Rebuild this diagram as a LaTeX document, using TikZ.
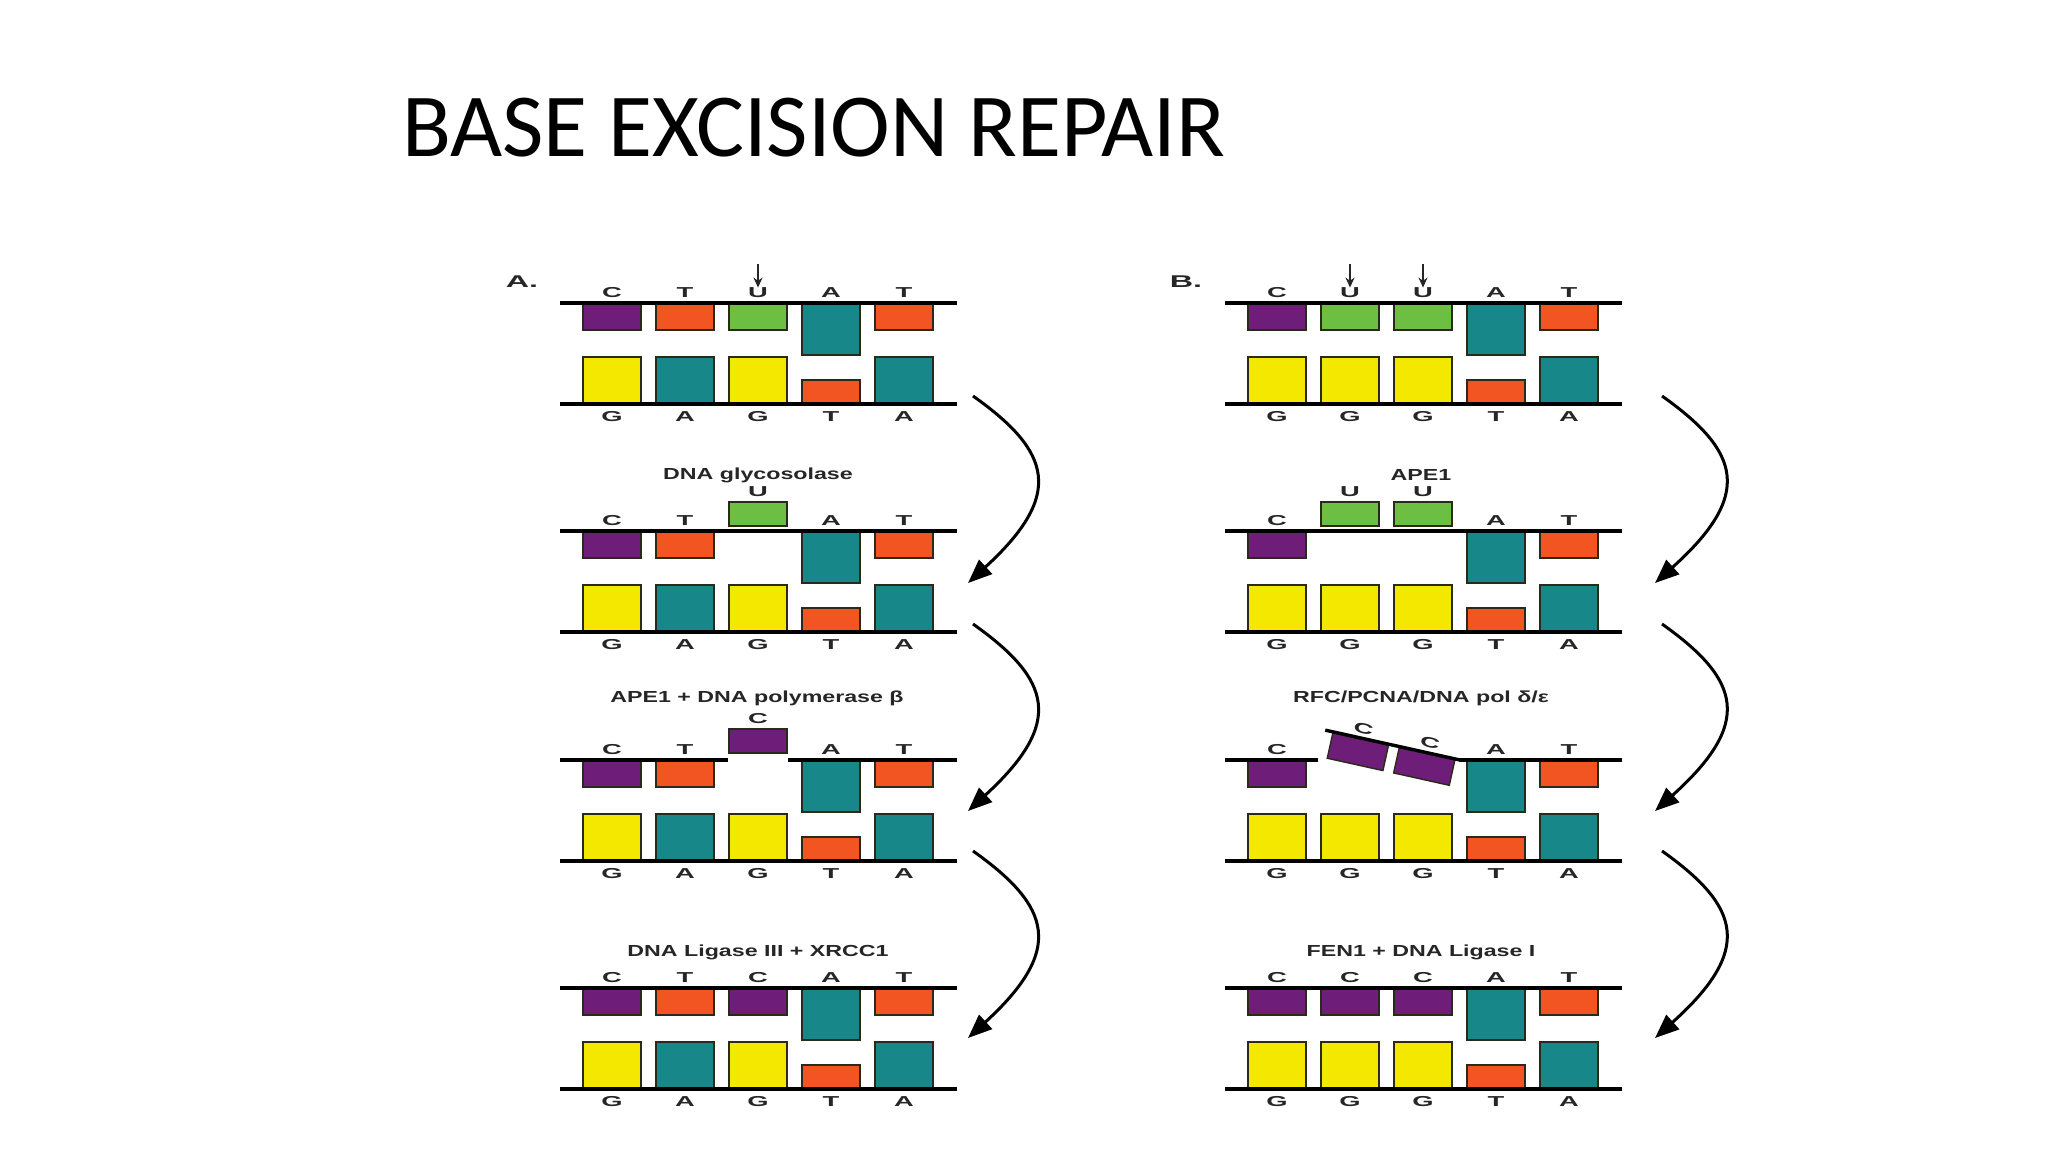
\documentclass[tikz,border=0pt]{standalone}
\usepackage{fontspec}
\setmainfont{Liberation Sans}
\newfontfamily\titlefont{Carlito}
\newfontfamily\figfont[FakeStretch=1.45]{Liberation Sans}
\newfontfamily\letfont[FakeStretch=1.9]{Liberation Sans}
\usetikzlibrary{arrows.meta}
\definecolor{purp}{HTML}{6E1E78}
\definecolor{oran}{HTML}{F25522}
\definecolor{gree}{HTML}{6CBF43}
\definecolor{teal}{HTML}{17878A}
\definecolor{yell}{HTML}{F4E800}
\definecolor{boxedge}{HTML}{2A2A1A}
\definecolor{txt}{HTML}{262626}

% top-strand bases: #1 prefix, #2 x0, #3 T, #4 list i/colour/height/letter
\newcommand\topbases[4]{%
  \foreach \i/\c/\h/\l in {#4}{%
    \draw[base, fill=\c] ({#2+73*\i-29},{#3+1}) rectangle ({#2+73*\i+29},{#3+\h});
    \node[lett] (#1t\i) at ({#2+73*\i},{#3-10}) {\l};
  }}
% bottom-strand bases: #1 prefix, #2 x0, #3 T, #4 list i/colour/height/letter
\newcommand\botbases[4]{%
  \foreach \i/\c/\h/\l in {#4}{%
    \draw[base, fill=\c] ({#2+73*\i-29},{#3+101-\h}) rectangle ({#2+73*\i+29},{#3+100});
    \node[lett] (#1b\i) at ({#2+73*\i},{#3+114}) {\l};
  }
  \draw[strand] ({#2-52},{#3+101}) -- ({#2+345},{#3+101});}
% lifted base: #1 prefix, #2 x centre, #3 top y, #4 colour, #5 letter
\newcommand\lifted[5]{%
  \draw[base, fill=#4] ({#2-29},{#3}) rectangle ({#2+29},{#3+24});
  \node[lett] (#1) at ({#2},{#3-10}) {#5};}

\begin{document}
\begin{tikzpicture}[x=0.5pt,y=-0.5pt,
  base/.style={draw=boxedge, line width=0.7pt},
  strand/.style={draw=black, line width=1.7pt},
  lett/.style={font=\letfont\bfseries\fontsize{7.2}{8}\selectfont, text=txt, inner sep=0pt},
  lbl/.style={font=\figfont\bfseries\fontsize{8}{9}\selectfont, text=txt, inner sep=0pt},
  panellab/.style={font=\letfont\bfseries\fontsize{8.5}{9}\selectfont, text=txt, inner sep=0pt},
  smallarrow/.style={draw=txt, line width=0.9pt, -{Stealth[length=5pt,width=4.5pt]}},
  bigarrow/.style={draw=black, line width=1.5pt, -{Triangle[length=12pt,width=9.5pt]}}]
\useasboundingbox[fill=white] (0,0) rectangle (2048,1152);

\node[anchor=base west, inner sep=0pt, font=\titlefont\fontsize{45}{50}\selectfont] (title) at (402,156) {BASE EXCISION REPAIR};

% ================= Panel A =================
\node[panellab] (labA) at (522,282) {A.};
% row 1
\topbases{A1}{612}{303}{0/purp/27/C, 1/oran/27/T, 2/gree/27/U, 3/teal/52/A, 4/oran/27/T}
\draw[strand] (560,303) -- (957,303);
\botbases{A1}{612}{303}{0/yell/47/G, 1/teal/47/A, 2/yell/47/G, 3/oran/24/T, 4/teal/47/A}
\coordinate (A1m) at (758,264);
\draw[smallarrow] (A1m) -- (A1t2.north);
% row 2
\node[lbl] (A2lab) at (758,475) {DNA glycosolase};
\topbases{A2}{612}{531}{0/purp/27/C, 1/oran/27/T, 3/teal/52/A, 4/oran/27/T}
\lifted{A2u}{758}{502}{gree}{U}
\draw[strand] (560,531) -- (957,531);
\botbases{A2}{612}{531}{0/yell/47/G, 1/teal/47/A, 2/yell/47/G, 3/oran/24/T, 4/teal/47/A}
% row 3
\node[lbl] (A3lab) at (757,698) {APE1 + DNA polymerase β};
\topbases{A3}{612}{760}{0/purp/27/C, 1/oran/27/T, 3/teal/52/A, 4/oran/27/T}
\lifted{A3c}{758}{729}{purp}{C}
\draw[strand] (560,760) -- (728,760);
\draw[strand] (788,760) -- (957,760);
\botbases{A3}{612}{760}{0/yell/47/G, 1/teal/47/A, 2/yell/47/G, 3/oran/24/T, 4/teal/47/A}
% row 4
\node[lbl] (A4lab) at (758,952) {DNA Ligase III + XRCC1};
\topbases{A4}{612}{988}{0/purp/27/C, 1/oran/27/T, 2/purp/27/C, 3/teal/52/A, 4/oran/27/T}
\draw[strand] (560,988) -- (957,988);
\botbases{A4}{612}{988}{0/yell/47/G, 1/teal/47/A, 2/yell/47/G, 3/oran/24/T, 4/teal/47/A}
% curved arrows A
\coordinate (As1) at (973,396);  \coordinate (Ae1) at (968,583);
\coordinate (As2) at (973,624);  \coordinate (Ae2) at (968,811);
\coordinate (As3) at (973,851);  \coordinate (Ae3) at (968,1038);
\draw[bigarrow] (As1) .. controls (1052,452) and (1064,495) .. (Ae1);
\draw[bigarrow] (As2) .. controls (1052,680) and (1064,723) .. (Ae2);
\draw[bigarrow] (As3) .. controls (1052,907) and (1064,950) .. (Ae3);

% ================= Panel B =================
\node[panellab] (labB) at (1186,282) {B.};
% row 1
\topbases{B1}{1277}{303}{0/purp/27/C, 1/gree/27/U, 2/gree/27/U, 3/teal/52/A, 4/oran/27/T}
\draw[strand] (1225,303) -- (1622,303);
\botbases{B1}{1277}{303}{0/yell/47/G, 1/yell/47/G, 2/yell/47/G, 3/oran/24/T, 4/teal/47/A}
\coordinate (B1m1) at (1350,264);
\coordinate (B1m2) at (1423,264);
\draw[smallarrow] (B1m1) -- (B1t1.north);
\draw[smallarrow] (B1m2) -- (B1t2.north);
% row 2
\node[lbl] (B2lab) at (1421,475) {APE1};
\topbases{B2}{1277}{531}{0/purp/27/C, 3/teal/52/A, 4/oran/27/T}
\lifted{B2u1}{1350}{502}{gree}{U}
\lifted{B2u2}{1423}{502}{gree}{U}
\draw[strand] (1225,531) -- (1622,531);
\botbases{B2}{1277}{531}{0/yell/47/G, 1/yell/47/G, 2/yell/47/G, 3/oran/24/T, 4/teal/47/A}
% row 3
\node[lbl] (B3lab) at (1421,698) {RFC/PCNA/DNA pol δ/ε};
\topbases{B3}{1277}{760}{0/purp/27/C, 3/teal/52/A, 4/oran/27/T}
\draw[strand] (1225,760) -- (1318,760);
\draw[strand] (1459,760) -- (1622,760);
\begin{scope}[shift={(1460,760)}, rotate=-12.5, transform shape]
  \draw[base, fill=purp] (-130,1) rectangle (-73,27);
  \draw[base, fill=purp] (-62,1) rectangle (-5,27);
  \draw[strand] (-138,0) -- (1,0);
  \node[lett] (B3f1) at (-101,-10) {C};
  \node[lett] (B3f2) at (-33,-10) {C};
\end{scope}
\botbases{B3}{1277}{760}{0/yell/47/G, 1/yell/47/G, 2/yell/47/G, 3/oran/24/T, 4/teal/47/A}
% row 4
\node[lbl] (B4lab) at (1421,952) {FEN1 + DNA Ligase I};
\topbases{B4}{1277}{988}{0/purp/27/C, 1/purp/27/C, 2/purp/27/C, 3/teal/52/A, 4/oran/27/T}
\draw[strand] (1225,988) -- (1622,988);
\botbases{B4}{1277}{988}{0/yell/47/G, 1/yell/47/G, 2/yell/47/G, 3/oran/24/T, 4/teal/47/A}
% curved arrows B
\coordinate (Bs1) at (1662,396);  \coordinate (Be1) at (1655,583);
\coordinate (Bs2) at (1662,624);  \coordinate (Be2) at (1655,811);
\coordinate (Bs3) at (1662,851);  \coordinate (Be3) at (1655,1038);
\draw[bigarrow] (Bs1) .. controls (1741,452) and (1753,495) .. (Be1);
\draw[bigarrow] (Bs2) .. controls (1741,680) and (1753,723) .. (Be2);
\draw[bigarrow] (Bs3) .. controls (1741,907) and (1753,950) .. (Be3);
\end{tikzpicture}
\end{document}
